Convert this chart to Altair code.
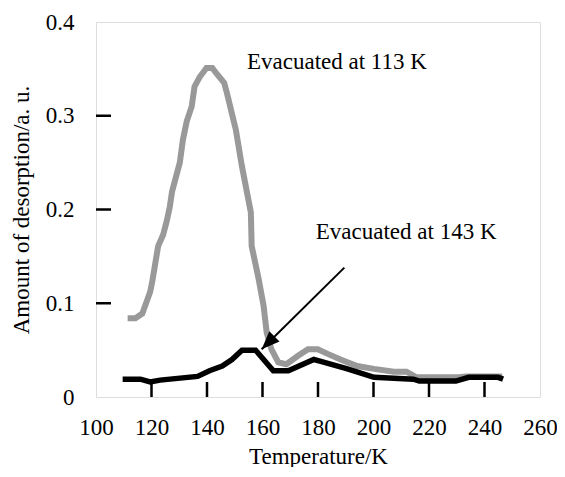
import altair as alt
import pandas as pd

# Evacuated at 113 K (gray)
t113 = [111.4, 114.2, 116.7, 119.5, 120.2, 122.4, 124.2, 125.6, 126.6, 127.4, 130.2, 131.3,
        132.7, 134.5, 135.5, 137.3, 139.8, 141.9, 143.7, 146.2, 147.2, 150.4, 152.6, 155.8,
        156.1, 158.6, 160.4, 161.5, 163.2, 165.7, 168.6, 172.8, 176.4, 179.9, 183.5, 188.1,
        194.1, 200.2, 207.3, 211.9, 215.5, 230.7, 233.2, 246.4]
v113 = [0.084, 0.084, 0.089, 0.112, 0.122, 0.161, 0.173, 0.189, 0.203, 0.219, 0.250, 0.274,
        0.294, 0.310, 0.331, 0.341, 0.351, 0.351, 0.344, 0.335, 0.324, 0.285, 0.246, 0.197,
        0.161, 0.126, 0.097, 0.069, 0.051, 0.037, 0.035, 0.044, 0.051, 0.051, 0.046, 0.040,
        0.033, 0.030, 0.027, 0.027, 0.021, 0.021, 0.022, 0.022]

# Evacuated at 143 K (black)
t143 = [109.6, 116.0, 119.5, 123.1, 136.6, 140.9, 145.5, 149.0, 152.6, 157.5, 163.9, 169.3,
        178.5, 181.0, 190.6, 200.2, 214.4, 216.5, 229.7, 234.3, 244.9, 246.7]
v143 = [0.019, 0.019, 0.016, 0.018, 0.022, 0.028, 0.033, 0.040, 0.050, 0.050, 0.028, 0.028,
        0.040, 0.038, 0.030, 0.021, 0.019, 0.017, 0.017, 0.021, 0.021, 0.019]

x_ticks = [100, 120, 140, 160, 180, 200, 220, 240, 260]
y_ticks = [0, 0.1, 0.2, 0.3, 0.4]
x_inner_ticks = [120, 140, 160, 180, 200, 220, 240]
y_inner_ticks = [0.1, 0.2, 0.3]

labels = ["Evacuated at 113 K", "Evacuated at 143 K"]
label_t = [154.4, 179.2]
label_v = [0.357, 0.176]

arrow_start = (189.5, 0.138)
arrow_tip = (159.7, 0.051)

FONT = "Liberation Serif"
FS = 23
W, H = 444, 375

xs = alt.Scale(domain=[100, 260], nice=False, zero=False)
ys = alt.Scale(domain=[0, 0.4], nice=False, zero=False)

d113 = pd.DataFrame({"t": t113, "v": v113, "i": range(len(t113))})
d143 = pd.DataFrame({"t": t143, "v": v143, "i": range(len(t143))})

base_x = alt.X("t:Q", scale=xs, axis=alt.Axis(
    values=x_ticks, title="Temperature/K", domain=False, grid=False, ticks=False,
    labelFont=FONT, labelFontSize=FS, labelColor="black", labelPadding=19,
    titleFont=FONT, titleFontSize=FS, titleFontWeight="normal", titleColor="black",
    titlePadding=6, labelFlush=False))
base_y = alt.Y("v:Q", scale=ys, axis=alt.Axis(
    values=y_ticks, title="Amount of desorption/a. u.", domain=False, grid=False, ticks=False,
    labelFont=FONT, labelFontSize=FS, labelColor="black", labelPadding=22,
    labelExpr="datum.value == 0 ? '0' : format(datum.value, '.1f')",
    titleFont=FONT, titleFontSize=FS, titleFontWeight="normal", titleColor="black",
    titlePadding=12, labelFlush=False))

gray = alt.Chart(d113).mark_line(color="#999999", strokeWidth=6, strokeJoin="miter",
                                 strokeCap="butt").encode(x=base_x, y=base_y, order="i:Q")
black = alt.Chart(d143).mark_line(color="black", strokeWidth=5.5, strokeJoin="miter",
                                  strokeCap="butt").encode(x="t:Q", y="v:Q", order="i:Q")

ytk = alt.Chart(pd.DataFrame({"v": y_inner_ticks})).mark_rule(color="black", strokeWidth=2.5).encode(
    y=alt.Y("v:Q", scale=ys), x=alt.value(0), x2=alt.value(15))
xtk = alt.Chart(pd.DataFrame({"t": x_inner_ticks})).mark_rule(color="black", strokeWidth=2.5).encode(
    x=alt.X("t:Q", scale=xs), y=alt.value(H - 15), y2=alt.value(H))

txt = alt.Chart(pd.DataFrame({"t": label_t, "v": label_v, "s": labels})).mark_text(
    font=FONT, fontSize=FS, color="black", align="left", baseline="middle").encode(
    x="t:Q", y="v:Q", text="s:N")

arrow_line = alt.Chart(pd.DataFrame({"t": [arrow_start[0]], "v": [arrow_start[1]],
                                     "t2": [arrow_tip[0]], "v2": [arrow_tip[1]]})).mark_rule(
    color="black", strokeWidth=2).encode(x="t:Q", y="v:Q", x2="t2:Q", y2="v2:Q")
arrow_head = alt.Chart(pd.DataFrame({"t": [arrow_tip[0]], "v": [arrow_tip[1]]})).mark_point(
    shape="M0,0 L-0.4,1 L0.4,1 Z", filled=True, color="black", opacity=1, size=1300, angle=225,
    strokeWidth=0).encode(x="t:Q", y="v:Q")

chart = alt.layer(gray, black, ytk, xtk, txt, arrow_line, arrow_head).properties(
    width=W, height=H, autosize="none",
    padding={"left": 88, "top": 14, "right": 17, "bottom": 70},
).configure_view(stroke="black", strokeWidth=2.5).configure(background="white")

chart.save("out.html", embed_options={"renderer": "svg", "actions": False})
